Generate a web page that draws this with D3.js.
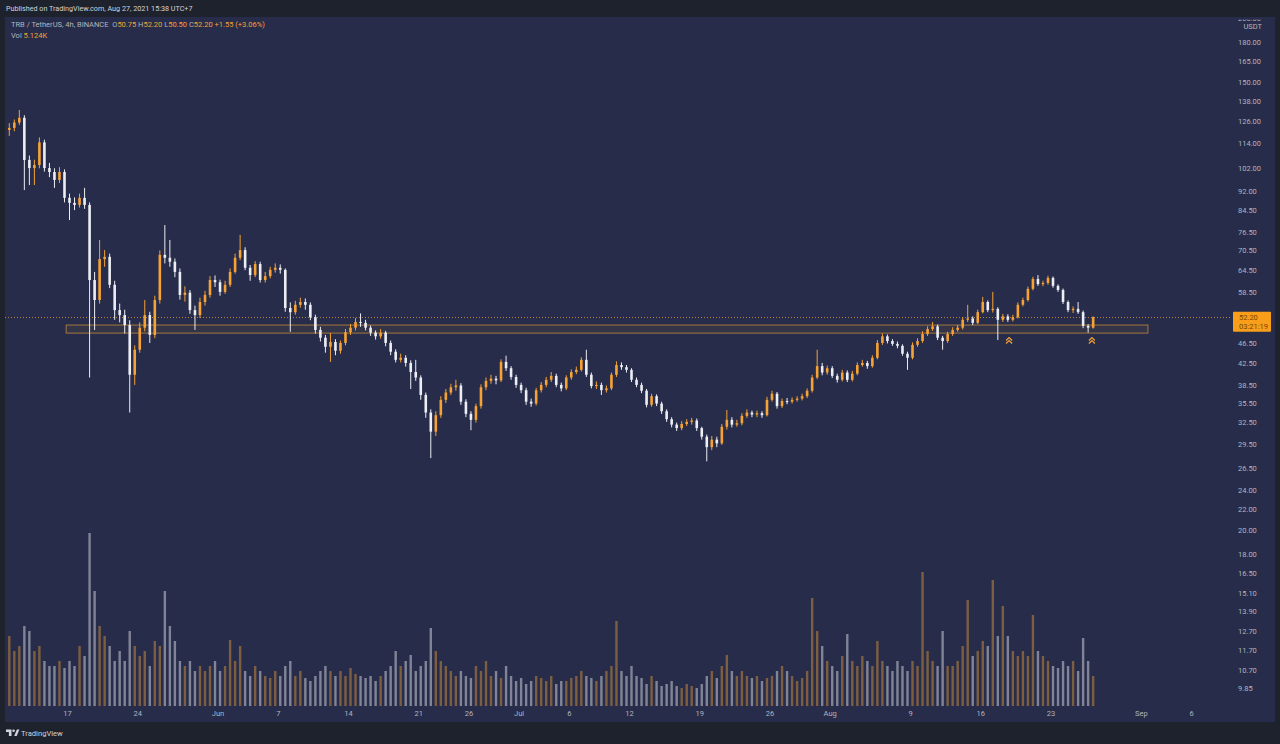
<!DOCTYPE html>
<html>
<head>
<meta charset="utf-8">
<script src="https://cdn.jsdelivr.net/npm/d3@7"></script>
<style>
  html, body { margin: 0; padding: 0; background: #1e222d; }
  svg { display: block; font-family: Roboto, "Open Sans", sans-serif; }
</style>
</head>
<body>
<svg id="chart" width="1280" height="744"></svg>
<script>
// TRB / TetherUS, BINANCE (12h bars, open = previous close)
const firstOpen = 121.2;
const closes = [
  122.3,125.3,128.0,105.9,102.1,103.5,114.6,102.1,100.3,96.8,100.3,89.3,87.3,86.5,89.3,86.5,
  61.7,56.4,67.8,68.5,60.4,53.9,52.7,50.4,40.3,45.1,49.8,52.7,48.2,56.4,69.1,68.2,67.0,64.0,
  57.7,58.3,53.9,52.7,55.9,57.7,61.7,61.1,58.5,60.4,64.0,68.2,70.6,65.2,63.1,66.3,61.7,62.8,
  64.6,65.2,64.6,54.4,53.4,55.2,55.9,55.2,52.2,49.3,47.6,45.7,46.7,44.9,46.5,48.8,49.8,51.1,
  50.9,49.8,48.7,47.9,48.7,46.5,44.7,43.1,43.5,42.5,40.8,39.8,36.8,34.0,31.2,33.6,36.0,37.2,
  38.1,38.4,35.7,33.8,32.9,35.0,38.1,39.2,39.6,39.3,42.7,41.5,39.9,38.5,37.6,35.7,35.4,37.6,
  38.5,39.4,40.1,38.5,37.9,39.8,40.8,41.2,43.1,40.3,38.3,38.5,37.6,37.9,40.3,42.1,41.7,41.2,
  39.4,38.5,37.5,35.2,36.6,35.4,34.2,33.0,32.2,31.7,32.3,32.6,32.8,31.7,30.5,29.1,30.1,29.6,
  31.9,32.9,32.2,32.4,33.5,34.0,33.7,33.9,33.6,36.0,37.0,35.0,35.8,35.7,36.0,36.2,36.6,37.5,
  39.8,41.9,40.7,41.5,40.1,39.4,40.7,39.4,40.5,42.1,42.5,41.9,43.5,46.5,47.9,46.9,46.3,45.9,
  44.3,43.5,46.1,46.9,48.4,49.5,50.1,47.6,46.9,48.4,49.3,49.8,51.6,51.9,50.9,53.4,55.9,53.9,
  54.2,51.6,52.4,51.6,52.2,55.2,56.4,59.3,62.0,60.6,60.9,62.3,60.1,59.0,55.9,53.9,54.2,53.4,
  50.2,49.8,52.2
];
const highs = [
  125,127,132.6,129.5,108,106,117.2,116,104.5,102,102.5,101.5,91,89.5,91,93.4,
  87.5,64,73.9,70.6,69.5,61.5,55.5,54,51.5,46,51,56.4,53.5,57.5,70.5,79,73.9,68,
  65,60,59,55,57,58.8,62.8,63,61.8,61.5,65,69.5,75.6,71.5,66,67.2,67,64,
  65.5,66.5,66.2,65,55.8,56.2,57,56.8,55.8,52.8,50,48.2,48.6,47.3,47,49.5,50.6,52,
  53.1,51.6,50.3,49.2,49.5,49.1,47,45.2,44.3,44,43,43.1,40.2,37.2,34.5,34.2,36.6,37.8,
  38.7,39.4,38.8,36.1,34.2,35.4,38.6,39.8,40.3,40.1,43.2,43.9,41.9,40.3,38.9,38,36.2,38,
  39,39.9,40.8,40.5,38.9,40.2,41.3,41.8,43.6,45.1,40.7,39.1,38.9,38.4,40.7,42.8,42.6,42.1,
  41.5,39.8,38.9,37.8,37,36.9,35.7,34.5,33.3,32.5,32.7,33,33.2,33.1,31.9,30.8,30.6,30.5,
  32.3,34.4,33.3,32.9,33.9,34.5,34.3,34.3,34.2,36.5,37.5,37.3,36.2,36.3,36.4,36.6,37,37.9,
  40.3,45.1,42.5,42,41.9,40.5,41.2,41.1,41,42.6,43.1,42.9,44,47.1,48.5,48.3,47.3,46.8,
  46.2,44.7,46.6,47.5,49,50.1,51.1,50.5,48,48.9,49.9,50.4,52.2,55.2,52.4,54,57.2,56.3,
  58.5,54.6,53,52.9,52.8,55.8,57,59.9,62.6,63.1,61.5,62.9,62.7,60.5,59.4,56.3,54.8,55.9,
  53.8,50.6,52.4
];
const lows = [
  118,120.5,124,92.5,94.6,94.6,102,100.5,98,93.4,95.5,87.5,80.8,84.5,85.5,85,
  39.8,49.3,55.5,65.5,59.5,51.6,51,48.5,34,38.5,44.5,49,46.5,47.5,55.5,66.5,65.5,62.5,
  56.5,56,53,49.3,52,55,57,59.8,57.5,58,59.8,63.5,67.5,64.5,61.5,62.5,61,61,
  62.2,63.8,63.5,53.5,48.9,52.8,54.5,54,51.5,48.5,46.8,44.5,42.7,44,44.3,46,48.2,49.2,
  50,49.2,48,47.2,47.4,45.8,44,42.6,42.6,41.8,37.8,39.2,36,33.2,27.7,30.6,33.2,35.5,
  36.8,37.5,35.2,33.3,31.4,32.5,34.6,37.6,38.7,38.6,39,41,39.4,38,37.1,35.2,34.9,35.1,
  37.2,38.1,39,38.1,37.4,37.6,39.4,40.4,40.9,39.9,37.9,37.8,36.8,37.2,37.6,39.9,41.2,40.7,
  39,38.1,37.1,34.8,34.9,35,33.8,32.6,31.8,31.3,31.4,32,32.2,31.3,30.1,27.3,28.7,29.1,
  29.4,31.5,31.8,31.9,32.1,33.2,33.3,33.3,33.2,33.4,35.7,34.6,34.7,35.3,35.4,35.7,35.9,36.3,
  37.2,39.5,40.2,40.3,39.7,38.9,39.1,39,39.1,40.2,41.8,41.4,41.6,43.2,46.1,46.4,45.9,45.4,
  43.9,41.2,43.2,45.7,46.5,48,49.1,47.1,45.1,46.5,48,48.9,49.4,51.1,50.4,50.6,53.1,53.4,
  53.3,47.1,51.1,51.1,51.2,51.9,54.8,56,58.9,60.1,60,60.4,59.6,58.5,55.4,53.4,53.2,53,
  49.7,48.7,49.6
];
// volume, thousand TRB per bar
const volumes = [
  70,55,60,80,75,55,60,45,40,40,45,38,45,40,60,50,
  173,115,80,70,60,45,55,45,75,60,50,55,40,65,60,115,80,65,
  45,40,45,35,40,35,40,45,35,40,66,45,60,35,30,40,35,30,
  28,35,30,40,45,30,35,28,25,30,35,40,35,30,35,30,38,32,
  30,28,30,25,30,35,40,55,40,45,51,35,40,45,78,55,45,40,
  35,30,35,30,28,40,35,45,30,35,28,40,30,25,28,22,25,30,
  28,25,30,22,25,25,28,30,35,30,28,25,30,35,40,85,35,30,
  40,30,28,22,30,25,20,22,25,20,18,22,20,18,22,30,35,28,
  40,51,35,30,35,30,28,30,25,28,30,35,40,35,30,25,28,35,
  108,75,60,45,40,35,50,72,45,40,50,45,40,65,45,40,35,45,
  40,35,45,40,134,55,45,40,75,40,40,45,60,106,50,55,65,60,
  126,70,100,70,55,50,55,50,91,55,50,45,40,38,45,40,45,35,
  68,45,30
];

const priceTicks = [200, 180, 165, 150, 138, 126, 114, 102, 92, 84.5, 76.5, 70.5, 64.5, 58.5,
  46.5, 42.5, 38.5, 35.5, 32.5, 29.5, 26.5, 24, 22, 20, 18, 16.5, 15.1, 13.9, 12.7, 11.7, 10.7, 9.85];
const timeTickDates = ["2021-05-17","2021-05-24","2021-06-01","2021-06-07","2021-06-14","2021-06-21",
  "2021-06-26","2021-07-01","2021-07-06","2021-07-12","2021-07-19","2021-07-26","2021-08-01",
  "2021-08-09","2021-08-16","2021-08-23","2021-09-01","2021-09-06"];
const timeTickLabels = ["17","24","Jun","7","14","21","26","Jul","6","12","19","26","Aug","9","16","23","Sep","6"];

const zoneTimes = ["2021-05-16T22:00Z", "2021-09-01T17:00Z"];
const zonePrices = [48.6, 50.4];
const markerTimes = ["2021-08-18T21:00Z", "2021-08-27T03:00Z"];
const markerPrices = [46.9, 46.9];
const lastPrice = 52.2;
const countdown = "03:21:19";

const UP = "#f7a234", DOWN = "#eceef3";
const BG = "#262c4a", FRAME = "#1e222d", TXT = "#b2b5be";

const svg = d3.select("#chart");
const W = 1280, H = 744;
const pane = { left: 5, right: 1232, top: 17, bottom: 706 };

// scales
const x = d3.scaleUtc()
  .domain([new Date("2021-05-17T00:00Z"), new Date("2021-09-06T00:00Z")])
  .range([67, 1191]);
const y = d3.scaleLog().domain([180, 9.85]).range([42, 688]);
const yVol = d3.scaleLinear().domain([0, 176]).range([pane.bottom, pane.bottom - 176]);

const start = Date.UTC(2021, 4, 11);
const bars = closes.map((c, i) => ({
  t: new Date(start + i * 12 * 3600e3 + 6 * 3600e3),
  o: i === 0 ? firstOpen : closes[i - 1],
  h: highs[i], l: lows[i], c: c, v: volumes[i]
}));

// frame + backgrounds
svg.append("rect").attr("width", W).attr("height", H).attr("fill", FRAME);
svg.append("rect").attr("x", 5).attr("y", 17).attr("width", 1270).attr("height", 705).attr("fill", BG);

const defs = svg.append("defs");
defs.append("clipPath").attr("id", "paneClip")
  .append("rect").attr("x", pane.left).attr("y", pane.top)
  .attr("width", pane.right - pane.left).attr("height", pane.bottom - pane.top);
defs.append("clipPath").attr("id", "axisClip")
  .append("rect").attr("x", pane.right).attr("y", 19.5)
  .attr("width", 43).attr("height", pane.bottom - 19.5);

const g = svg.append("g").attr("clip-path", "url(#paneClip)");

// volume
g.append("g").selectAll("rect").data(bars).join("rect")
  .attr("x", d => x(d.t) - 1.2)
  .attr("width", 2.4)
  .attr("y", d => yVol(d.v))
  .attr("height", d => pane.bottom - yVol(d.v))
  .attr("fill", d => d.c >= d.o ? "rgba(247,165,52,0.42)" : "rgba(255,255,255,0.42)");

// support zone
g.append("rect")
  .attr("x", x(new Date(zoneTimes[0])))
  .attr("width", x(new Date(zoneTimes[1])) - x(new Date(zoneTimes[0])))
  .attr("y", y(zonePrices[1]))
  .attr("height", y(zonePrices[0]) - y(zonePrices[1]))
  .attr("fill", "rgba(247,165,52,0.07)")
  .attr("stroke", "rgba(247,165,52,0.6)")
  .attr("stroke-width", 1);

// current price line
g.append("line")
  .attr("x1", pane.left).attr("x2", pane.right)
  .attr("y1", Math.round(y(lastPrice)) + 0.5).attr("y2", Math.round(y(lastPrice)) + 0.5)
  .attr("stroke", "rgba(247,165,52,0.7)")
  .attr("stroke-dasharray", "1,2");

// candles
const candle = g.append("g").selectAll("g").data(bars).join("g")
  .attr("fill", d => d.c >= d.o ? UP : DOWN)
  .attr("stroke", d => d.c >= d.o ? UP : DOWN);
candle.append("line")
  .attr("x1", d => x(d.t)).attr("x2", d => x(d.t))
  .attr("y1", d => y(d.h)).attr("y2", d => y(d.l))
  .attr("stroke-width", 1);
candle.append("rect")
  .attr("stroke", "none")
  .attr("x", d => x(d.t) - 1.3)
  .attr("width", 2.6)
  .attr("y", d => y(Math.max(d.o, d.c)))
  .attr("height", d => Math.max(1, Math.abs(y(d.o) - y(d.c))));

// double chevron markers
markerTimes.forEach((t, i) => {
  const cx = x(new Date(t)), cy = y(markerPrices[i]);
  g.append("path")
    .attr("d", `M${cx - 3},${cy - 0.5} L${cx},${cy - 3.5} L${cx + 3},${cy - 0.5} M${cx - 3},${cy + 2.5} L${cx},${cy - 0.5} L${cx + 3},${cy + 2.5}`)
    .attr("fill", "none").attr("stroke", UP).attr("stroke-width", 1.2);
});

// price axis
const yAxis = svg.append("g").attr("clip-path", "url(#axisClip)")
  .append("g").attr("transform", "translate(1238,0)")
  .call(d3.axisRight(y).tickValues(priceTicks).tickFormat(d3.format(".2f")).tickSize(0).tickPadding(0));
yAxis.select(".domain").remove();
yAxis.selectAll("text").attr("fill", TXT).attr("font-size", 7.5).attr("font-family", "Roboto, sans-serif");

svg.append("text").attr("x", 1262).attr("y", 29).attr("text-anchor", "end")
  .attr("fill", TXT).attr("font-size", 7.5).text("USDT");

// last price label
const ly = y(lastPrice);
svg.append("rect").attr("x", 1233).attr("y", ly - 5.5).attr("width", 38).attr("height", 20)
  .attr("fill", "#f89e1b").attr("rx", 1);
svg.append("text").attr("x", 1239).attr("y", ly + 2.8).attr("fill", "#7a4700")
  .attr("font-size", 7.5).text(d3.format(".2f")(lastPrice));
svg.append("text").attr("x", 1239).attr("y", ly + 11.5).attr("fill", "#7a4700")
  .attr("font-size", 7.5).text(countdown);

// time axis
const xAxis = svg.append("g").attr("transform", `translate(0,${pane.bottom + 2})`)
  .call(d3.axisBottom(x)
    .tickValues(timeTickDates.map(s => new Date(s + "T00:00Z")))
    .tickFormat((d, i) => timeTickLabels[i])
    .tickSize(0).tickPadding(3));
xAxis.select(".domain").remove();
xAxis.selectAll("text").attr("fill", TXT).attr("font-size", 7.5).attr("font-family", "Roboto, sans-serif");

// header bar
svg.append("rect").attr("width", W).attr("height", 17).attr("fill", FRAME);
svg.append("text").attr("x", 6).attr("y", 11).attr("fill", "#d1d4dc").attr("font-size", 7.2)
  .text("Published on TradingView.com, Aug 27, 2021 15:38 UTC+7");

// legend
const leg1 = svg.append("text").attr("x", 11).attr("y", 27).attr("font-size", 7.5).attr("fill", TXT);
const parts = [
  ["TRB / TetherUS, 4h, BINANCE ", TXT], [" O", TXT], ["50.75", UP], [" H", TXT], ["52.20", UP],
  [" L", TXT], ["50.50", UP], [" C", TXT], ["52.20", UP], [" +1.55 (+3.06%)", UP]
];
parts.forEach(p => leg1.append("tspan").attr("fill", p[1]).attr("xml:space", "preserve").text(p[0]));
const leg2 = svg.append("text").attr("x", 11).attr("y", 38).attr("font-size", 7.5).attr("fill", TXT);
leg2.append("tspan").text("Vol ");
leg2.append("tspan").attr("fill", UP).text("5.124K");

// footer logo
const logo = svg.append("g").attr("fill", "#d1d4dc");
logo.append("path").attr("d", "M6,729.5 h5.5 v6.5 h-2.6 v-4 h-2.9 z");
logo.append("circle").attr("cx", 13.6).attr("cy", 730.8).attr("r", 1.3);
logo.append("path").attr("d", "M14.2,736 L16.9,729.5 L19.4,729.5 L16.7,736 z");
svg.append("text").attr("x", 21).attr("y", 735.5).attr("fill", "#d1d4dc").attr("font-size", 7.6)
  .text("TradingView");
</script>
</body>
</html>
